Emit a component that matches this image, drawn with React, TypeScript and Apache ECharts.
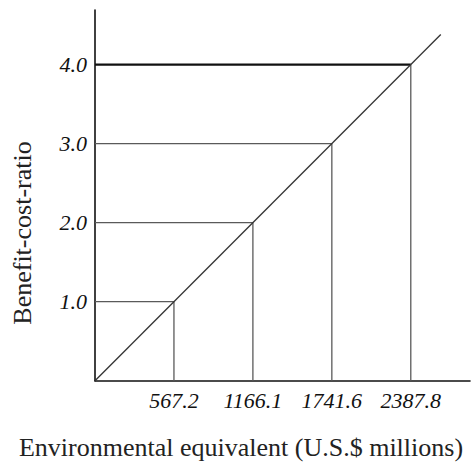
import React, { useEffect, useRef } from "react";
import * as echarts from "echarts";

// Benefit-cost ratios (y) and their environmental equivalents (x labels, U.S.$ millions)
const ratios = [1, 2, 3, 4];
const envValues = [567.2, 1166.1, 1741.6, 2387.8];
const yTickLabels = ["1.0", "2.0", "3.0", "4.0"];
const diagonalEnd = 4.38;

const xTitle = "Environmental equivalent (U.S.$ millions)";
const yTitle = "Benefit-cost-ratio";

const SERIF = "Liberation Serif";

export default function App() {
  const ref = useRef<HTMLDivElement>(null);
  useEffect(() => {
    if (!ref.current) return;
    const chart = echarts.init(ref.current, undefined, { renderer: "svg" });
    const series: any[] = [
      {
        type: "line",
        data: [
          [0, 0],
          [diagonalEnd, diagonalEnd],
        ],
        symbol: "none",
        lineStyle: { color: "#333", width: 1.3 },
        z: 3,
      },
    ];
    ratios.forEach((r, i) => {
      const last = i === ratios.length - 1;
      series.push({
        type: "line",
        data: [
          [0, r],
          [r, r],
        ],
        symbol: "none",
        lineStyle: { color: last ? "#111" : "#5a5a5a", width: last ? 2.2 : 1.3 },
        z: 2,
      });
      series.push({
        type: "line",
        data: [
          [r, r],
          [r, 0],
        ],
        symbol: "none",
        lineStyle: { color: "#5a5a5a", width: 1.3 },
        z: 2,
      });
    });
    chart.setOption({
      animation: false,
      backgroundColor: "#fff",
      textStyle: { fontFamily: SERIF },
      grid: { left: 95, right: 1, top: 10, bottom: 87.3, containLabel: false },
      xAxis: {
        type: "value",
        min: 0,
        max: 4.75,
        interval: 1,
        axisLine: { show: true, lineStyle: { color: "#111", width: 1.6 } },
        axisTick: { show: false },
        splitLine: { show: false },
        axisLabel: {
          showMaxLabel: false,
          margin: 9,
          fontFamily: SERIF,
          fontStyle: "italic",
          fontSize: 22,
          color: "#111",
          formatter: (v: number) => {
            const idx = ratios.indexOf(v);
            return idx >= 0 ? envValues[idx].toFixed(1) : "";
          },
        },
      },
      yAxis: {
        type: "value",
        min: 0,
        max: 4.69,
        interval: 1,
        axisLine: { show: true, lineStyle: { color: "#111", width: 1.6 } },
        axisTick: { show: false },
        splitLine: { show: false },
        axisLabel: {
          showMaxLabel: false,
          margin: 8,
          fontFamily: SERIF,
          fontStyle: "italic",
          fontSize: 22,
          color: "#111",
          formatter: (v: number) => {
            const idx = ratios.indexOf(v);
            return idx >= 0 ? yTickLabels[idx] : "";
          },
        },
      },
      graphic: [
        {
          type: "text",
          x: 241,
          y: 447,
          style: {
            text: xTitle,
            fontFamily: SERIF,
            fontSize: 26,
            fill: "#222",
            align: "center",
            verticalAlign: "middle",
          },
        },
        {
          type: "text",
          x: 22,
          y: 233,
          rotation: Math.PI / 2,
          style: {
            text: yTitle,
            fontFamily: SERIF,
            fontSize: 26,
            fill: "#222",
            align: "center",
            verticalAlign: "middle",
          },
        },
      ],
      series,
    });
    return () => chart.dispose();
  }, []);
  return <div ref={ref} style={{ width: 471, height: 468, position: "absolute", left: 0, top: 0 }} />;
}
